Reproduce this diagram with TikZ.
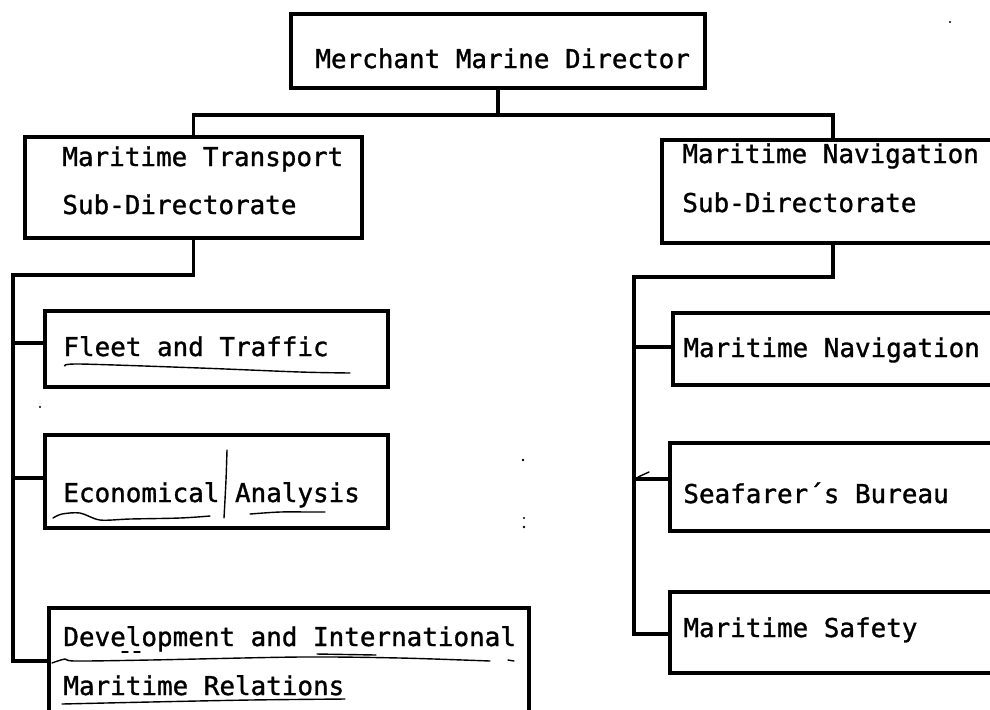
\documentclass[tikz,border=0pt]{standalone}
\usepackage{fontspec}
\newfontfamily\typew[BoldFont={DejaVu Sans Mono},BoldFeatures={FakeBold=1.2}]{DejaVu Sans Mono}
\usetikzlibrary{fit}
\begin{document}
\begin{tikzpicture}[x=0.5pt,y=-0.5pt,
  box/.style={draw,line width=1.6pt,inner sep=0pt,rectangle},
  txt/.style={inner sep=0pt,anchor=base west,font=\typew\bfseries\fontsize{12.96pt}{15pt}\selectfont},
  conn/.style={line width=1.6pt},
  hand/.style={line width=0.7pt,line cap=round}]
\useasboundingbox (0,0) rectangle (990,709);
% boxes
\node[box,fit={(291,14)(705,88)}] (top) {};
\node[box,fit={(25,137)(362,238)}] (mt) {};
\node[box,fit={(662,140)(1004,243)}] (mn) {};
\node[box,fit={(45,311)(388,387)}] (fleet) {};
\node[box,fit={(45,435)(388,528)}] (econ) {};
\node[box,fit={(49,608)(529,760)}] (dev) {};
\node[box,fit={(673,313)(1010,385)}] (nav) {};
\node[box,fit={(670,443)(1010,531)}] (sea) {};
\node[box,fit={(670,592)(1010,673)}] (safe) {};
% texts
\node[txt] (ttop) at (315,68) {Merchant Marine Director};
\node[txt] (tmt1) at (62,166) {Maritime Transport};
\node[txt] (tmt2) at (62,214) {Sub-Directorate};
\node[txt] (tmn1) at (682,163) {Maritime Navigation};
\node[txt] (tmn2) at (682,212) {Sub-Directorate};
\node[txt] (tfleet) at (63,356) {Fleet and Traffic};
\node[txt] (tecon) at (63,502) {Economical Analysis};
\node[txt] (tdev1) at (63,646) {Development and International};
\node[txt] (tdev2) at (63,695) {Maritime Relations};
\node[txt] (tnav) at (683,357) {Maritime Navigation};
\node[txt] (tsea) at (683,503) {Seafarer´s Bureau};
\node[txt] (tsafe) at (683,637) {Maritime Safety};
% connectors
\coordinate (b1) at (498,115);
\draw[conn] (top.south) -- (b1);
\draw[conn] (mt.north) |- (b1) -| (mn.north);
\coordinate (ltop) at (13,275);
\coordinate (lbot) at (13,661);
\coordinate (lfleet) at (13,343);
\coordinate (lecon) at (13,478);
\draw[conn] (mt.south) |- (ltop) -- (lbot) -- (lbot -| dev.west);
\draw[conn] (lfleet) -- (lfleet -| fleet.west);
\draw[conn] (lecon) -- (lecon -| econ.west);
\coordinate (rtop) at (634,277);
\coordinate (rbot) at (634,634);
\coordinate (rnav) at (634,347);
\coordinate (rsea) at (634,479);
\draw[conn] (mn.south) |- (rtop) -- (rbot) -- (rbot -| safe.west);
\draw[conn] (rnav) -- (rnav -| nav.west);
\draw[conn] (rsea) -- (rsea -| sea.west);
\draw[hand] (638,477) -- (649,472);
% handwritten marks
\draw[hand] plot[smooth] coordinates {(65,366) (80,364) (200,368) (300,372) (350,373)};
\draw[hand] plot[smooth] coordinates {(53,518) (62,514) (80,513) (100,520) (130,519) (180,518) (210,516)};
\draw[hand] plot[smooth] coordinates {(250,514) (280,512) (310,512) (325,512)};
\draw[hand] plot[smooth] coordinates {(227,450) (226,480) (224,518)};
\draw[hand] plot[smooth] coordinates {(52,663) (65,659) (75,661) (150,660) (300,657) (400,658) (490,661)};
\draw[hand] (508,660) -- (514,661);
\draw[hand,dashed] (122,652) -- (140,652);
\draw[hand] (317,654) -- (376,655);
\draw[hand] plot[smooth] coordinates {(62,704) (150,702) (250,700) (345,699)};
% stray dots
\fill (523,460) circle (1.3);
\fill (524,518) circle (1.2);
\fill (524,527) circle (1.3);
\fill (40,407) circle (1.2);
\fill (950,22) circle (1.2);
\end{tikzpicture}
\end{document}
